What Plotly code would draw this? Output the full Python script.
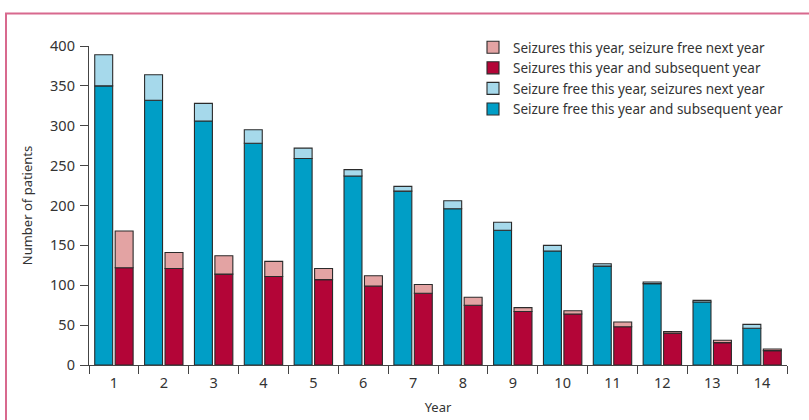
import plotly.graph_objects as go

years = [str(y) for y in range(1, 15)]

# Patients who were seizure free in a given year
sf_both = [350, 332, 306, 278, 259, 237, 218, 196, 169, 143, 124, 102, 79, 46]
sf_then_seizures = [39, 32, 22, 17, 13, 8, 6, 10, 10, 7, 3, 2, 2, 5]

# Patients who had seizures in a given year
sz_both = [122, 121, 114, 111, 107, 99, 90, 75, 67, 64, 48, 40, 28, 18]
sz_then_sf = [46, 20, 23, 19, 14, 13, 11, 10, 5, 4, 6, 2, 3, 2]

DARK_BLUE = "#009ec6"
LIGHT_BLUE = "#a6d9eb"
DARK_RED = "#b30537"
PINK = "#e3a3a3"
OUTLINE = "#2b2b2b"
FONT = "Noto Sans"
TEXT = "#333333"

BAR_W = 0.36
BLUE_OFF = -0.385
RED_OFF = 0.025

fig = go.Figure()

def add_bar(name, y, base, color, offset):
    fig.add_trace(go.Bar(
        x=years, y=y, base=base, name=name,
        width=BAR_W, offset=offset,
        marker=dict(color=color, line=dict(color=OUTLINE, width=1.1)),
    ))

add_bar("Seizure free this year and subsequent year", sf_both, None, DARK_BLUE, BLUE_OFF)
add_bar("Seizure free this year, seizures next year", sf_then_seizures, sf_both, LIGHT_BLUE, BLUE_OFF)
add_bar("Seizures this year and subsequent year", sz_both, None, DARK_RED, RED_OFF)
add_bar("Seizures this year, seizure free next year", sz_then_sf, sz_both, PINK, RED_OFF)

# Plot area in pixels, used for the outer frame
L, R, T, B = 89, 787, 46, 365
W, H = 809, 420

def px_x(p):
    return (p - L) / (R - L)

def px_y(p):
    return (B - p) / (B - T)

fig.add_shape(
    type="path", xref="paper", yref="paper",
    path=f"M {px_x(6)} {px_y(422)} L {px_x(6)} {px_y(13.5)} L {px_x(810)} {px_y(13.5)}",
    line=dict(color="#d8698e", width=2),
)

fig.update_layout(
    width=W, height=H,
    margin=dict(l=L, r=W - R, t=T, b=H - B, pad=0, autoexpand=False),
    barmode="overlay",
    plot_bgcolor="white", paper_bgcolor="white",
    font=dict(family=FONT, size=13, color=TEXT),
    showlegend=True,
    legend=dict(
        traceorder="reversed",
        x=px_x(473), y=px_y(32), xanchor="left", yanchor="top",
        bgcolor="rgba(0,0,0,0)", font=dict(size=13.5, color=TEXT),
        tracegroupgap=0,
    ),
    xaxis=dict(
        type="category", tickson="boundaries", automargin=False,
        ticks="outside", ticklen=8, tickwidth=1.3, tickcolor="#444444",
        showline=True, linecolor="#444444", linewidth=1.3,
        showgrid=False, zeroline=False,
        tickfont=dict(size=14.5), ticklabelstandoff=4,
        title=dict(text="Year", standoff=12, font=dict(size=13)),
        range=[-0.5, 13.5],
    ),
    yaxis=dict(
        range=[0, 400], tickvals=list(range(0, 401, 50)), automargin=False,
        ticks="outside", ticklen=8, tickwidth=1.3, tickcolor="#444444",
        showline=True, linecolor="#444444", linewidth=1.3,
        showgrid=False, zeroline=False,
        tickfont=dict(size=14.5), ticklabelstandoff=2,
        title=dict(text="Number of patients", standoff=14, font=dict(size=13)),
    ),
)

fig.write_html("out.html")
